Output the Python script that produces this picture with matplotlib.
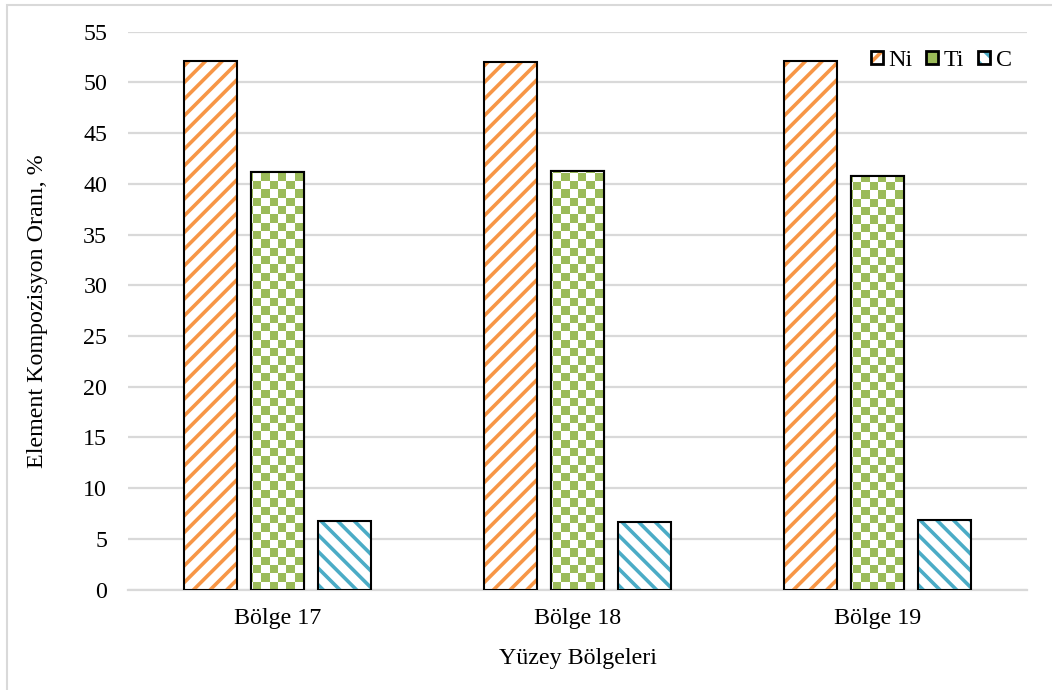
import numpy as np
import matplotlib
matplotlib.use("Agg")
import matplotlib.pyplot as plt
from matplotlib.patches import Rectangle
from matplotlib.legend_handler import HandlerTuple

# ---- data ----
regions = ["Bölge 17", "Bölge 18", "Bölge 19"]
elements = ["Ni", "Ti", "C"]
ni_values = [52.1, 52.0, 52.1]
ti_values = [41.2, 41.3, 40.8]
c_values = [6.8, 6.7, 6.9]
y_ticks = [0, 5, 10, 15, 20, 25, 30, 35, 40, 45, 50, 55]
x_title = "Yüzey Bölgeleri"
y_title = "Element Kompozisyon Oranı, %"

ORANGE = "#F79646"
GREEN = "#9BBB59"
BLUE = "#4BACC6"
GRID = "#D9D9D9"

plt.rcParams["font.family"] = ["Liberation Serif", "DejaVu Serif"]
plt.rcParams["hatch.linewidth"] = 2.6
FS = 17.3

fig = plt.figure(figsize=(10.52, 6.9), dpi=100)
ax = fig.add_axes([0.1217, 0.1454, 0.8545, 0.8088])

x = np.arange(len(regions))
width = 0.177
step = 0.2236

ax.set_xlim(-0.5, len(regions) - 0.5)
ax.set_ylim(0, 55)
ax.set_yticks(y_ticks)
ax.yaxis.grid(True, color=GRID, linewidth=1.6, zorder=0)
ax.set_axisbelow(True)
for s in ["left", "right", "top"]:
    ax.spines[s].set_visible(False)
ax.spines["bottom"].set_color(GRID)
ax.spines["bottom"].set_linewidth(1.6)
ax.tick_params(axis="both", length=0, labelsize=FS)
ax.tick_params(axis="y", pad=15)
ax.tick_params(axis="x", pad=13)
ax.set_xticks(x)
ax.set_xticklabels(regions)

# Ni: orange diagonal stripes
ax.bar(x - step, ni_values, width, color="white", edgecolor=ORANGE,
       hatch="//", linewidth=0, zorder=2)
ax.bar(x - step, ni_values, width, color="none", edgecolor="black",
       linewidth=1.5, zorder=4)

# Ti: green checkerboard, clipped to each bar
ti_bars = ax.bar(x, ti_values, width, color="white", edgecolor="black",
                 linewidth=1.5, zorder=2)
fig.canvas.draw()
bbox = ax.get_window_extent()
cell_px = 8.3
ncols = int(round(bbox.width / cell_px))
nrows = int(round(bbox.height / cell_px))
checker = (np.add.outer(np.arange(nrows), np.arange(ncols)) % 2).astype(float)
rgba = np.ones((nrows, ncols, 4))
rgba[checker == 1] = matplotlib.colors.to_rgba(GREEN)
x0, x1 = ax.get_xlim()
y0, y1 = ax.get_ylim()
for bar in ti_bars:
    im = ax.imshow(rgba, extent=(x0, x1, y0, y1), origin="lower",
                   interpolation="nearest", aspect="auto", zorder=3)
    im.set_clip_path(bar)
ax.bar(x, ti_values, width, color="none", edgecolor="black",
       linewidth=1.5, zorder=4)
ax.set_xlim(x0, x1)
ax.set_ylim(y0, y1)

# C: blue back-diagonal stripes
ax.bar(x + step, c_values, width, color="white", edgecolor=BLUE,
       hatch="\\\\", linewidth=0, zorder=2)
ax.bar(x + step, c_values, width, color="none", edgecolor="black",
       linewidth=1.5, zorder=4)

ax.set_xlabel(x_title, fontsize=FS, labelpad=14)
ax.set_ylabel(y_title, fontsize=FS, labelpad=25)

# legend with pattern swatches
def swatch(hatch_color, hatch, face="white"):
    h = Rectangle((0, 0), 1, 1, facecolor=face, edgecolor=hatch_color,
                  hatch=hatch, linewidth=0)
    e = Rectangle((0, 0), 1, 1, facecolor="none", edgecolor="black",
                  linewidth=2)
    return (h, e)

handles = [swatch(ORANGE, "//"), swatch(GREEN, None, face=GREEN),
           swatch(BLUE, "\\\\")]
ax.legend(handles, elements, handler_map={tuple: HandlerTuple(ndivide=1)},
          loc="upper right", bbox_to_anchor=(0.999, 0.993), ncol=3,
          frameon=False, fontsize=FS, handlelength=0.5, handleheight=0.5,
          handletextpad=0.25, columnspacing=0.55, borderaxespad=0.2)

# chart area border
fig.patches.append(Rectangle((7 / 1052, -0.1), 1.2, 1.1 - 5 / 690,
                             transform=fig.transFigure, fill=False,
                             edgecolor=GRID, linewidth=1.5))

fig.savefig("out.png", dpi=100)
